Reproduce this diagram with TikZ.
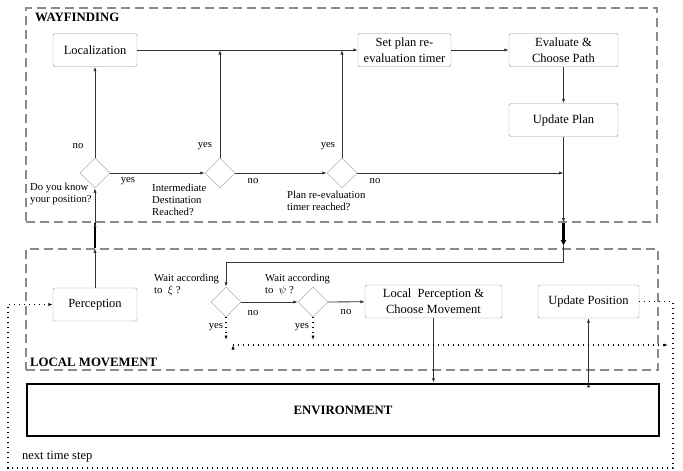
\documentclass[tikz,border=0pt]{standalone}
\usepackage{fontspec}
\setmainfont{Liberation Serif}
\usetikzlibrary{arrows.meta,shapes.geometric}

\definecolor{boxgray}{HTML}{999999}
\definecolor{dashgray}{HTML}{8a8a8a}
\definecolor{linegray}{HTML}{333333}

\begin{document}
\begin{tikzpicture}[x=1pt, y=-1pt, >={Latex[length=4.5pt,width=3.2pt]}]
    \useasboundingbox (0,0) rectangle (683,471);
    \begin{scope}[all/.style={draw=boxgray, fill=white, rounded corners=1.5pt, minimum height=33pt, align=center, inner sep=1pt, font=\fontsize{12.5}{16}\selectfont},
        dia/.style={draw=boxgray, fill=white, diamond, minimum width=30pt, minimum height=30pt, inner sep=0pt},
        dbox/.style={draw=dashgray, dash pattern=on 9pt off 5pt, line width=1.2pt},
        flow/.style={draw=linegray, line width=0.8pt},
        heavy/.style={draw=black, line width=2.5pt},
        dots/.style={draw=black, line width=1.2pt, dash pattern=on 1.2pt off 3.8pt},
        lbl/.style={inner sep=0pt, align=left, font=\fontsize{10.7}{12}\selectfont},
        ttl/.style={inner sep=0pt, anchor=west, font=\fontsize{12.8}{14}\selectfont\bfseries}]
        % the two dashed frames
        \node[dbox, minimum width=631pt, minimum height=214pt] (wf) at (341.5,115) {};
        \node[dbox, minimum width=632pt, minimum height=121pt] (lm) at (342,309.5) {};
        \node[ttl] (wft) at (35,17) {WAYFINDING};
        \node[ttl] (lmt) at (30,362) {LOCAL MOVEMENT};

        \node[all, minimum width=84pt] (b1) at (95,50) {Localization};
        \node[all, minimum width=93pt] (b2) at (404.5,50) {Set plan re-\\evaluation timer};
        \node[all, minimum width=109pt] (b3) at (563.5,50) {Evaluate \&\\Choose Path};
        \node[all, minimum width=109pt] (b4) at (563.5,120) {Update Plan};
        \node[dia] (d1) at (95,173) {};
        \node[dia] (d2) at (220,173) {};
        \node[dia] (d3) at (342,173) {};

        \node[all, minimum width=84pt] (b5) at (95,304.5) {Perception};
        \node[dia] (d4) at (226,302) {};
        \node[dia] (d5) at (313,302) {};
        \node[all, minimum width=137pt] (b6) at (433.5,301.5) {Local~ Perception \&\\Choose Movement};
        \node[all, minimum width=101pt] (b7) at (588.5,301.5) {Update Position};
        \node[draw, line width=2.5pt, minimum width=632pt, minimum height=52pt, font=\fontsize{12.8}{14}\selectfont\bfseries] (env) at (343,410) {ENVIRONMENT};

        \coordinate (j2) at (d2 |- b1);
        \coordinate (j3) at (d3 |- b1);
        \coordinate (j4) at (b4 |- d3);
        \coordinate (w0) at (b5 |- wf.south);
        \coordinate (l0) at (b5 |- lm.north);
        \coordinate (w1) at (b4 |- wf.south);
        \coordinate (l1) at (563.5,246);
        \coordinate (c1) at (563.5,262);
        \coordinate (e1) at (b6 |- env.north);
        \coordinate (e2) at (b7 |- env.north);
        \coordinate (y4) at (226,340);
        \coordinate (y5) at (313,340);
        \coordinate (h1) at (233,345);
        \coordinate (h2) at (668,345);
        \coordinate (r1) at (673,301.5);
        \coordinate (r2) at (673,468);
        \coordinate (r3) at (8,468);
        \coordinate (r4) at (8,304.5);

        \path[flow,->] (b1) edge (b2) (b2) edge (b3) (b3) edge (b4);
        \path[flow,->] (d1) edge (b1) (d1) edge (d2) (d2) edge (d3);
        \path[flow,->] (d2) edge (j2) (d3) edge (j3) (d3) edge (j4);
        \path[flow,->] (b4) edge (w1);
        \draw[heavy,-{Latex[length=6pt,width=6pt]}] (w1) -- (l1);
        \draw[flow,->] (l1) -- (c1) -| (d4);
        \path[flow,->] (b5) edge (l0);
        \draw[heavy] (l0) -- (w0);
        \path[flow,->] (w0) edge (d1);
        \path[flow,->] (d4) edge (d5) (d5) edge (b6) (b6) edge (e1) (e2) edge (b7);

        \path[dots,->] (d4) edge (y4) (d5) edge (y5) (h1) edge (h2);
        \draw[dots,->] (b7) -- (r1) -- (r2) -- (r3) -- (r4) -- (b5);

        \node[lbl] (n1) at (78,146) {no};
        \node[lbl] (n2) at (128,181) {yes};
        \node[lbl] (n3) at (205,146) {yes};
        \node[lbl] (n4) at (253,181) {no};
        \node[lbl] (n5) at (328,146) {yes};
        \node[lbl] (n6) at (375,181) {no};
        \node[lbl, anchor=west] (q1) at (30,194) {Do you know\\your position?};
        \node[lbl, anchor=west] (q2) at (152,200) {Intermediate\\Destination\\Reached?};
        \node[lbl, anchor=west] (q3) at (287,201) {Plan re-evaluation\\timer reached?};
        \node[lbl, anchor=west] (q4) at (154,284.5) {Wait according\\to~ $\xi$ ?};
        \node[lbl, anchor=west] (q5) at (265,284.5) {Wait according\\to~ $\psi$ ?};
        \node[lbl] (n7) at (253,313) {no};
        \node[lbl] (n8) at (346,312) {no};
        \node[lbl] (n9) at (216,327) {yes};
        \node[lbl] (n10) at (302,327) {yes};
        \node[anchor=west, inner sep=0pt, font=\fontsize{12.5}{14}\selectfont] (nts) at (22,457) {next time step};
    \end{scope}
\end{tikzpicture}
\end{document}
